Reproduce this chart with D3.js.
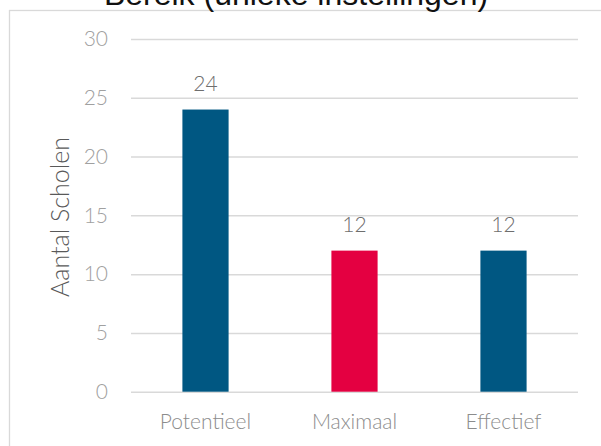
<!DOCTYPE html>
<html>
<head>
<meta charset="utf-8">
<script src="https://cdn.jsdelivr.net/npm/d3@7"></script>
<style>
html,body{margin:0;padding:0;background:#fff;overflow:hidden;}
svg{display:block;}
</style>
</head>
<body>
<svg id="chart" width="601" height="446"></svg>
<script>
const categories = ["Potentieel", "Maximaal", "Effectief"];
const values = [24, 12, 12];
const barColors = ["#005782", "#E40041", "#005782"];
const yTicks = [0, 5, 10, 15, 20, 25, 30];
const titleText = "Bereik (unieke instellingen)";
const yTitle = "Aantal Scholen";

const W = 601, H = 446;
const plot = {left: 131, right: 578, top: 39, bottom: 391.7};
const svg = d3.select("#chart");
const FONT = "Lato, 'Open Sans', sans-serif";

// chart border (extends beyond the viewport on right and bottom)
svg.append("rect")
  .attr("x", 9.5).attr("y", 10.5)
  .attr("width", 700).attr("height", 600)
  .attr("fill", "#fff").attr("stroke", "#d9d9d9").attr("stroke-width", 1.3);

// title (cut off at top, as in the reference)
svg.append("text")
  .attr("x", 296).attr("y", 5)
  .attr("text-anchor", "middle")
  .attr("font-family", "'Liberation Sans', Arial, sans-serif")
  .attr("font-size", 32)
  .attr("fill", "#111")
  .text(titleText);

const x = d3.scaleBand().domain(categories).range([plot.left, plot.right]).paddingInner(0.69).paddingOuter(0.345);
const y = d3.scaleLinear().domain([0, 30]).range([plot.bottom, plot.top]);

// gridlines
const yAxis = d3.axisLeft(y).tickValues(yTicks).tickSize(-(plot.right - plot.left)).tickPadding(23);
const gy = svg.append("g").attr("transform", `translate(${plot.left},0)`).call(yAxis);
gy.select(".domain").remove();
gy.selectAll(".tick line").attr("stroke", "#d9d9d9").attr("stroke-width", 1.5);
gy.selectAll(".tick text")
  .attr("font-family", FONT).attr("font-weight", 300)
  .attr("font-size", 21).attr("fill", "#a0a0a0");

// bars
svg.append("g").selectAll("rect").data(values).join("rect")
  .attr("x", (d, i) => x(categories[i]))
  .attr("width", x.bandwidth())
  .attr("y", d => y(d))
  .attr("height", d => y(0) - y(d))
  .attr("fill", (d, i) => barColors[i]);

// data labels
svg.append("g").selectAll("text").data(values).join("text")
  .attr("x", (d, i) => x(categories[i]) + x.bandwidth() / 2)
  .attr("y", d => y(d) - 19)
  .attr("text-anchor", "middle")
  .attr("font-family", FONT).attr("font-weight", 300)
  .attr("font-size", 21).attr("fill", "#6e6e6e")
  .text(d => d);

// x axis labels
const xAxis = d3.axisBottom(x).tickSize(0).tickPadding(22);
const gx = svg.append("g").attr("transform", `translate(0,${plot.bottom})`).call(xAxis);
gx.select(".domain").remove();
gx.selectAll(".tick text")
  .attr("font-family", FONT).attr("font-weight", 300)
  .attr("font-size", 21).attr("fill", "#8c8c8c");

// y title
svg.append("text")
  .attr("transform", `translate(69,217) rotate(-90)`)
  .attr("text-anchor", "middle")
  .attr("font-family", FONT).attr("font-weight", 300)
  .attr("font-size", 25).attr("fill", "#595959")
  .text(yTitle);
</script>
</body>
</html>
